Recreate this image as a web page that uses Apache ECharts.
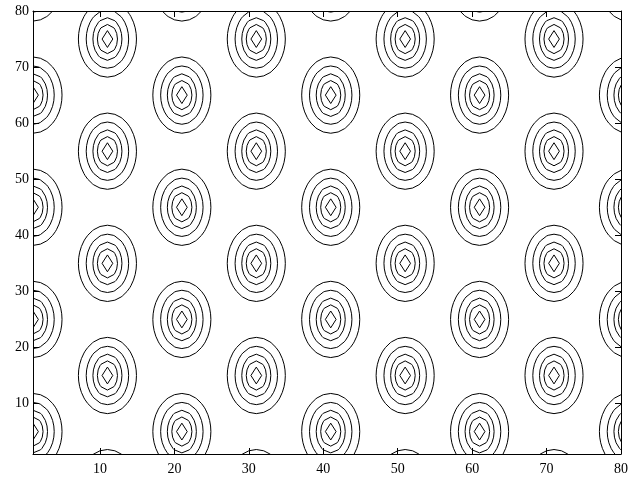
<!DOCTYPE html>
<html>
<head>
<meta charset="utf-8">
<script src="https://cdn.jsdelivr.net/npm/echarts@6/dist/echarts.min.js"></script>
<style>
html,body{margin:0;padding:0;background:#fff;}
#chart{width:629px;height:478px;}
</style>
</head>
<body>
<div id="chart"></div>
<script>
// Peak centres of the contour pattern (two interleaved lattices)
const peakXA = [1, 21, 41, 61, 81];
const peakYA = [5, 25, 45, 65, 85];
const peakXB = [11, 31, 51, 71];
const peakYB = [-5, 15, 35, 55, 75];
// Contour ring half-widths / half-heights (data units), outer -> inner
const ringRx = [3.9, 2.85, 1.95, 1.35, 0.72];
const ringRy = [6.8, 5.2, 3.8, 2.6, 1.5];
// Tick values
const xTicks = [10, 20, 30, 40, 50, 60, 70, 80];
const yTicks = [10, 20, 30, 40, 50, 60, 70, 80];

const peaks = [];
peakXA.forEach(x => peakYA.forEach(y => peaks.push([x, y])));
peakXB.forEach(x => peakYB.forEach(y => peaks.push([x, y])));

// vertices where an elliptical ring crosses the unit data grid (contour-on-grid look)
function ringPoints(a, b, diamond) {
  if (diamond) return [[a, 0], [0, b], [-a, 0], [0, -b]];
  const pts = [];
  for (let i = -Math.floor(a); i <= Math.floor(a); i++) {
    if (Math.abs(i) < a) {
      const t = b * Math.sqrt(1 - (i / a) * (i / a));
      pts.push([i, t]); pts.push([i, -t]);
    }
  }
  for (let j = -Math.floor(b); j <= Math.floor(b); j++) {
    if (Math.abs(j) < b && j !== 0) {
      const s = a * Math.sqrt(1 - (j / b) * (j / b));
      pts.push([s, j]); pts.push([-s, j]);
    }
  }
  pts.push([a, 0]); pts.push([-a, 0]);
  pts.sort((p, q) => Math.atan2(p[1] / b, p[0] / a) - Math.atan2(q[1] / b, q[0] / a));
  return pts;
}

const font = {fontFamily: 'Liberation Serif', fontSize: 14, color: '#000'};
const axisLine = {show: true, onZero: false, lineStyle: {color: '#000', width: 1}};

const chart = echarts.init(document.getElementById('chart'), null, {renderer: 'canvas'});
chart.setOption({
  animation: false,
  backgroundColor: '#fff',
  grid: {left: 33, right: 8, top: 11, bottom: 24, containLabel: false, outerBoundsMode: 'none'},
  xAxis: [
    {type: 'value', position: 'bottom', min: 1, max: 80,
     axisLine: axisLine,
     axisTick: {show: true, inside: true, length: 6, customValues: xTicks, lineStyle: {color: '#000'}},
     axisLabel: Object.assign({show: true, margin: 8, customValues: xTicks}, font),
     splitLine: {show: false}},
    {type: 'value', position: 'top', min: 1, max: 80,
     axisLine: axisLine,
     axisTick: {show: true, inside: true, length: 6, customValues: xTicks, lineStyle: {color: '#000'}},
     axisLabel: {show: false},
     splitLine: {show: false}}
  ],
  yAxis: [
    {type: 'value', position: 'left', min: 1, max: 80,
     axisLine: axisLine,
     axisTick: {show: true, inside: true, length: 6, customValues: yTicks, lineStyle: {color: '#000'}},
     axisLabel: Object.assign({show: true, margin: 4, customValues: yTicks}, font),
     splitLine: {show: false}},
    {type: 'value', position: 'right', min: 1, max: 80,
     axisLine: axisLine,
     axisTick: {show: true, inside: true, length: 6, customValues: yTicks, lineStyle: {color: '#000'}},
     axisLabel: {show: false},
     splitLine: {show: false}}
  ],
  series: [{
    type: 'custom',
    xAxisIndex: 0,
    yAxisIndex: 0,
    clip: true,
    encode: {x: 0, y: 1},
    data: peaks,
    renderItem: function (params, api) {
      const cx = api.value(0), cy = api.value(1);
      const children = [];
      for (let r = 0; r < ringRx.length; r++) {
        const pts = ringPoints(ringRx[r], ringRy[r], r === ringRx.length - 1)
          .map(p => api.coord([cx + p[0], cy + p[1]]));
        children.push({type: 'polygon', shape: {points: pts},
          style: {fill: 'none', stroke: '#000', lineWidth: 1}});
      }
      return {type: 'group', children: children};
    }
  }]
});
</script>
</body>
</html>
